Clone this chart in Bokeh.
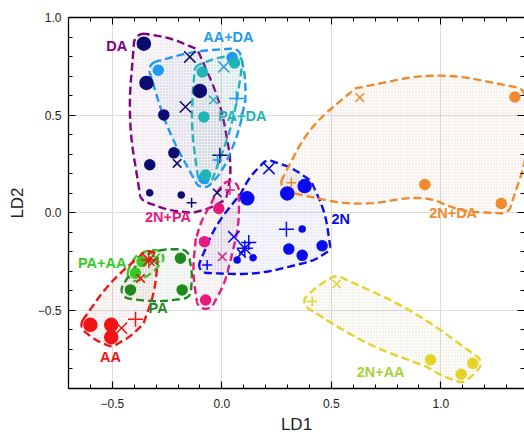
import numpy as np
from bokeh.plotting import figure
from bokeh.models import LinearAxis, FixedTicker, Range1d, Title
from bokeh.core.properties import value
from bokeh.embed import file_html
from bokeh.resources import INLINE

# ---------------- data ----------------
x_ticks = [-0.5, 0.0, 0.5, 1.0]
x_tick_labels = ["\u22120.5", "0.0", "0.5", "1.0"]
y_ticks = [-0.5, 0.0, 0.5, 1.0]
y_tick_labels = ["\u22120.5", "0.0", "0.5", "1.0"]

# kind codes: L/M/S = large/medium/small circle, X/x = large/small cross, P/p = large/small plus, * = asterisk
da_x = [-0.356, -0.344, -0.265, -0.219, -0.329, -0.329, -0.185, -0.100, -0.146, -0.166, -0.204, -0.009, -0.021, -0.138]
da_y = [0.866, 0.665, 0.501, 0.307, 0.246, 0.102, 0.091, 0.624, 0.798, 0.542, 0.253, 0.295, 0.102, 0.051]
da_k = ["L", "L", "M", "M", "M", "S", "S", "L", "X", "X", "x", "P", "x", "p"]

aada_x = [-0.290, 0.047, 0.009, 0.067, -0.082, -0.020]
aada_y = [0.730, 0.795, 0.747, 0.585, 0.176, 0.270]
aada_k = ["M", "M", "X", "P", "M", "p"]

pada_x = [-0.089, -0.082, -0.038, 0.058, -0.074]
pada_y = [0.721, 0.491, 0.577, 0.767, 0.193]
pada_k = ["M", "M", "x", "M", "M"]

n2pa_x = [-0.014, -0.079, 0.002, 0.037, -0.074]
n2pa_y = [0.022, -0.148, -0.225, 0.116, -0.447]
n2pa_k = ["M", "M", "x", "p", "M"]

n2_x = [0.215, 0.116, 0.299, 0.378, 0.295, 0.367, 0.306, 0.367, 0.458, 0.055, 0.105, 0.123, 0.143, 0.070, -0.067, 0.090]
n2_y = [0.227, 0.074, 0.099, 0.137, -0.085, -0.083, -0.186, -0.218, -0.169, -0.123, -0.182, -0.152, -0.230, -0.242, -0.268, -0.208]
n2_k = ["X", "L", "L", "L", "P", "S", "M", "M", "M", "X", "*", "P", "S", "S", "p", "x"]

n2da_x = [0.630, 1.338, 0.927, 1.276, 0.317]
n2da_y = [0.590, 0.593, 0.145, 0.048, 0.154]
n2da_k = ["x", "M", "M", "M", "p"]

n2aa_x = [0.524, 0.413, 0.953, 1.146, 1.093]
n2aa_y = [-0.365, -0.455, -0.753, -0.771, -0.827]
n2aa_k = ["x", "p", "M", "M", "M"]

paaa_x = [-0.364, -0.394, -0.303]
paaa_y = [-0.250, -0.310, -0.231]
paaa_k = ["M", "M", "x"]

pa_x = [-0.189, -0.181, -0.417, -0.310]
pa_y = [-0.233, -0.395, -0.395, -0.247]
pa_k = ["M", "M", "M", "x"]

aa_x = [-0.600, -0.505, -0.505, -0.458, -0.394, -0.333, -0.371]
aa_y = [-0.574, -0.574, -0.637, -0.591, -0.545, -0.242, -0.336]
aa_k = ["L", "L", "L", "X", "P", "*", "x"]

group_names = ["DA", "AA+DA", "PA+DA", "2N+PA", "2N", "2N+DA", "2N+AA", "PA+AA", "PA", "AA"]
label_x = [-0.480, 0.030, 0.093, -0.246, 0.543, 1.056, 0.725, -0.546, -0.291, -0.508]
label_y = [0.855, 0.899, 0.495, -0.022, -0.032, 0.001, -0.817, -0.257, -0.489, -0.737]

# ---------------- styles ----------------
group_data = [
    (da_x, da_y, da_k), (aada_x, aada_y, aada_k), (pada_x, pada_y, pada_k),
    (n2pa_x, n2pa_y, n2pa_k), (n2_x, n2_y, n2_k), (n2da_x, n2da_y, n2da_k),
    (n2aa_x, n2aa_y, n2aa_k), (paaa_x, paaa_y, paaa_k), (pa_x, pa_y, pa_k),
    (aa_x, aa_y, aa_k),
]
hull_colors = ["#800080", "#1E9BEF", "#1FB5B8", "#E6197F", "#0A0AF0", "#F08A2C",
               "#E3D42C", "#33CC22", "#1E8A1E", "#F01414"]
point_colors = ["#0B0B70", "#1E9BEF", "#1FB5B8", "#E6197F", "#0A0AF0", "#F08A2C",
                "#E3D42C", "#33CC22", "#1E8A1E", "#F01414"]
label_colors = ["#800080", "#1E9BEF", "#1FB5B8", "#E6197F", "#0A0AF0", "#F08A2C",
                "#A6D23A", "#33CC22", "#1E8A1E", "#F01414"]
margins = [10, 9, 8, 9, 8, 10, 8, 8, 9, 9]
bulges = [0.06, 0.05, 0.05, 0.06, 0.07, 0.10, 0.05, 0.08, 0.06, 0.06]
hull_orders = {5: [4, 2, 3, 1, 0]}

KIND = {"L": ("circle", 13), "M": ("circle", 10), "S": ("circle", 6),
        "X": ("x", 16), "x": ("x", 12), "P": ("cross", 15), "p": ("cross", 10),
        "*": ("asterisk", 16)}

X0, X1, Y0, Y1 = -0.7, 1.382, -0.9, 1.0
W, H = 524, 436
BL, BR, BT, BB = 68, 0, 17, 48
SX = (W - BL - BR) / (X1 - X0)
SY = (H - BT - BB) / (Y1 - Y0)


def convex_hull(pts):
    pts = sorted(set(pts))
    if len(pts) <= 2:
        return pts

    def cross(o, a, b):
        return (a[0] - o[0]) * (b[1] - o[1]) - (a[1] - o[1]) * (b[0] - o[0])
    lower, upper = [], []
    for p_ in pts:
        while len(lower) >= 2 and cross(lower[-2], lower[-1], p_) <= 0:
            lower.pop()
        lower.append(p_)
    for p_ in reversed(pts):
        while len(upper) >= 2 and cross(upper[-2], upper[-1], p_) <= 0:
            upper.pop()
        upper.append(p_)
    return lower[:-1] + upper[:-1]


def hull_outline(xs, ys, margin, bulge, order=None):
    P = [(x * SX, y * SY) for x, y in zip(xs, ys)]
    poly = [np.array(P[i]) for i in order] if order else [np.array(q) for q in convex_hull(P)]
    n = len(poly)
    pts = []
    for i in range(n):
        pv, v, nx_ = poly[i - 1], poly[i], poly[(i + 1) % n]
        e1 = v - pv
        e2 = nx_ - v
        n1 = np.array([e1[1], -e1[0]]) / np.hypot(*e1)
        n2 = np.array([e2[1], -e2[0]]) / np.hypot(*e2)
        cr = e1[0] * e2[1] - e1[1] * e2[0]
        if cr >= 0:
            a1 = np.arctan2(n1[1], n1[0]); a2 = np.arctan2(n2[1], n2[0])
            while a2 < a1:
                a2 += 2 * np.pi
            for a in np.linspace(a1, a2, 7):
                pts.append(v + margin * np.array([np.cos(a), np.sin(a)]))
        else:
            b = n1 + n2
            pts.append(v + margin * b / np.hypot(*b))
        L2 = np.hypot(*e2)
        mid = (v + nx_) / 2 + n2 * (margin + bulge * L2)
        pts.append(mid)
    for _ in range(4):
        new = []
        m = len(pts)
        for i in range(m):
            a, b = pts[i], pts[(i + 1) % m]
            new.append(0.75 * a + 0.25 * b)
            new.append(0.25 * a + 0.75 * b)
        pts = new
    pts.append(pts[0])
    return [q[0] / SX for q in pts], [q[1] / SY for q in pts]


p = figure(width=W, height=H, output_backend="svg", toolbar_location=None,
           x_range=Range1d(X0, X1), y_range=Range1d(Y0, Y1),
           min_border_left=BL, min_border_right=BR, min_border_top=BT, min_border_bottom=BB,
           background_fill_color="white", border_fill_color="white")
p.outline_line_color = None

FONT = "Liberation Sans"
x_minor = [round(v, 2) for v in np.arange(-0.7, 1.41, 0.1)]
y_minor = [round(v, 2) for v in np.arange(-0.9, 1.01, 0.1)]

for ax, ticks, labels, minor in ((p.xaxis[0], x_ticks, x_tick_labels, x_minor),
                                 (p.yaxis[0], y_ticks, y_tick_labels, y_minor)):
    ax.ticker = FixedTicker(ticks=ticks, minor_ticks=minor)
    ax.major_label_overrides = {t: l for t, l in zip(ticks, labels)}
    ax.major_tick_in = 7; ax.major_tick_out = 0
    ax.minor_tick_in = 4; ax.minor_tick_out = 0
    ax.axis_line_color = "black"; ax.axis_line_width = 1.3
    ax.major_tick_line_color = "black"; ax.minor_tick_line_color = "black"
    ax.major_tick_line_width = 1.2; ax.minor_tick_line_width = 1
    ax.major_label_text_font = FONT; ax.major_label_text_font_size = "12px"
    ax.major_label_text_color = "#222222"
    ax.axis_label_text_font = FONT; ax.axis_label_text_font_size = "17px"
    ax.axis_label_text_font_style = "normal"; ax.axis_label_text_color = "#222222"

p.yaxis[0].axis_label = "LD2"
p.xaxis[0].major_label_standoff = 10
p.yaxis[0].major_label_standoff = 7
p.yaxis[0].axis_label_standoff = 8

# x-axis title as a "below" title panel
p.add_layout(Title(text="LD1", align="center", text_font=FONT, text_font_size="17px",
                   text_font_style="normal", text_color="#222222", standoff=4, offset=0),
             "below")

top_ax = LinearAxis(ticker=FixedTicker(ticks=x_ticks, minor_ticks=x_minor),
                    major_label_text_font_size="0px", major_label_text_color=None,
                    major_label_standoff=0,
                    major_tick_in=7, major_tick_out=0, minor_tick_in=4, minor_tick_out=0,
                    axis_line_color="black", axis_line_width=1.3)
p.add_layout(top_ax, "above")
right_ax = LinearAxis(ticker=FixedTicker(ticks=y_ticks, minor_ticks=y_minor),
                      major_label_text_font_size="0px", major_label_text_color=None,
                      major_label_standoff=0,
                      major_tick_in=7, major_tick_out=0, minor_tick_in=4, minor_tick_out=0,
                      axis_line_color=None)
p.add_layout(right_ax, "right")

p.xgrid.ticker = FixedTicker(ticks=x_ticks)
p.ygrid.ticker = FixedTicker(ticks=y_ticks)
p.xgrid.grid_line_color = "#dcdcdc"
p.ygrid.grid_line_color = "#dcdcdc"

# hulls
for gi, (xs, ys, ks) in enumerate(group_data):
    hx, hy = hull_outline(xs, ys, margins[gi], bulges[gi], hull_orders.get(gi))
    p.patch(hx, hy, fill_color=hull_colors[gi], fill_alpha=0.035,
            hatch_pattern="dot", hatch_color="#a0a0a0", hatch_alpha=0.3, hatch_scale=3,
            line_color=hull_colors[gi], line_width=2.4, line_dash="8 4")

# points
for gi, (xs, ys, ks) in enumerate(group_data):
    markers = [KIND[k][0] for k in ks]
    sizes = [KIND[k][1] for k in ks]
    p.scatter(x=xs, y=ys, marker=markers, size=sizes,
              fill_color=point_colors[gi], line_color=point_colors[gi], line_width=1.5)

# labels
p.text(x=label_x, y=label_y, text=group_names, text_color=label_colors,
       text_font=value(FONT), text_font_style="bold", text_font_size="14.5px",
       text_align="center", text_baseline="middle")

open("out.html", "w").write(file_html(p, INLINE))
